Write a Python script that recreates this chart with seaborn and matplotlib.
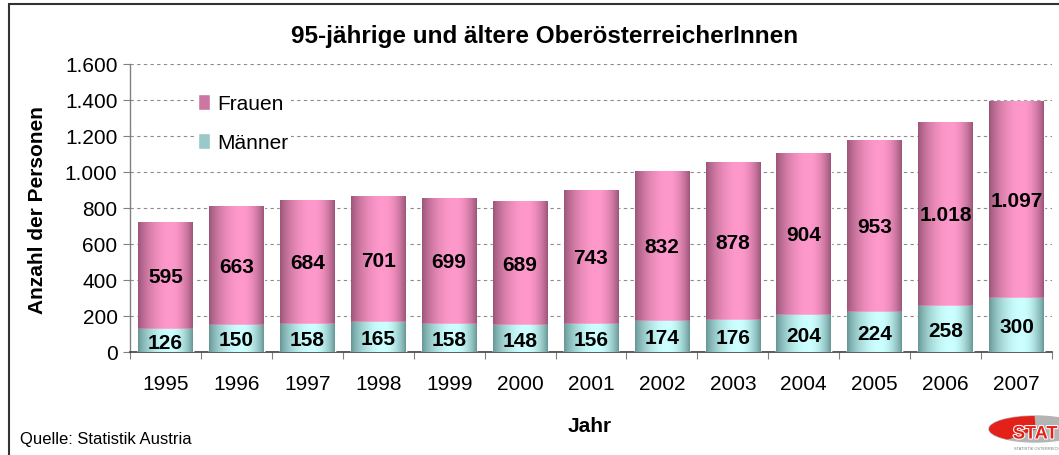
import numpy as np
import pandas as pd
import seaborn as sns
import matplotlib.pyplot as plt
import matplotlib.patheffects as pe
from matplotlib.patches import Rectangle, Ellipse, Wedge
from matplotlib.ticker import FuncFormatter, FixedLocator

# data
jahre = ["1995", "1996", "1997", "1998", "1999", "2000", "2001",
         "2002", "2003", "2004", "2005", "2006", "2007"]
maenner = [126, 150, 158, 165, 158, 148, 156, 174, 176, 204, 224, 258, 300]
frauen = [595, 663, 684, 701, 699, 689, 743, 832, 878, 904, 953, 1018, 1097]

df = pd.DataFrame({"Jahr": jahre, "Maenner": maenner, "Frauen": frauen})
df["Gesamt"] = df["Maenner"] + df["Frauen"]

sns.set_style("white")
plt.rcParams['font.family'] = ['Liberation Sans', 'DejaVu Sans']
plt.rcParams.update({"text.color": "black", "axes.labelcolor": "black",
                     "xtick.color": "black", "ytick.color": "black"})

pink_c, pink_e = np.array([1.0, 0.60, 0.80]), np.array([0.60, 0.33, 0.46])
cyan_c, cyan_e = np.array([0.80, 1.0, 1.0]), np.array([0.40, 0.58, 0.58])


def fmt_de(v):
    return f"{int(v):,}".replace(",", ".")


def gradient(center, edge, n=200):
    t = np.linspace(0, 1, n)
    s = np.where(t < 0.6, t / 0.6, (1 - t) / 0.4)
    f = np.sin(np.pi / 2 * s) ** 0.8
    cols = edge[None, :] + (center - edge)[None, :] * f[:, None]
    return cols[None, :, :]


fig = plt.figure(figsize=(10.59, 4.56), dpi=100)
ax = fig.add_axes([130 / 1059, 1 - 353 / 456, 922 / 1059, 288 / 456])

# stacked bars: total (Frauen on top) then Maenner
sns.barplot(data=df, x="Jahr", y="Gesamt", color=pink_c, width=0.77,
            saturation=1, ax=ax, zorder=3)
n_tot = len(ax.patches)
sns.barplot(data=df, x="Jahr", y="Maenner", color=cyan_c, width=0.77,
            saturation=1, ax=ax, zorder=4)

for i, p in enumerate(ax.patches):
    x0, y0 = p.get_x(), p.get_y()
    w, h = p.get_width(), p.get_height()
    g = gradient(pink_c, pink_e) if i < n_tot else gradient(cyan_c, cyan_e)
    im = ax.imshow(g, extent=[x0, x0 + w, y0, y0 + h], aspect="auto",
                   zorder=p.get_zorder() + 0.1, interpolation="bilinear")
    im.set_clip_path(p)

ax.set_xlim(-0.5, len(jahre) - 0.5)
ax.set_ylim(0, 1600)

# value labels
for i in range(len(jahre)):
    m, f = maenner[i], frauen[i]
    ax.text(i, m / 2 - 8, fmt_de(m), ha="center", va="center",
            fontsize=15, fontweight="bold", zorder=6)
    ax.text(i, m + f / 2 - 5, fmt_de(f), ha="center", va="center",
            fontsize=15, fontweight="bold", zorder=6)

# axes styling
ax.set_yticks(range(0, 1601, 200))
ax.yaxis.set_major_formatter(FuncFormatter(lambda v, _: fmt_de(v)))
ax.yaxis.grid(True, linestyle=(0, (3, 3)), color="#8c8c8c", linewidth=0.8)
ax.set_axisbelow(True)
ax.tick_params(axis="y", length=5, width=0.8, color="#808080",
               labelsize=15, pad=4, direction="out", left=True)
ax.set_xticks(range(len(jahre)))
ax.set_xticklabels(jahre)
ax.tick_params(axis="x", which="major", length=0, labelsize=15, pad=16)
ax.xaxis.set_minor_locator(FixedLocator(np.arange(-0.5, len(jahre), 1)))
ax.tick_params(axis="x", which="minor", length=5, width=0.8,
               color="#808080", direction="out", bottom=True)
ax.set_xlabel("")
ax.set_ylabel("")
for s in ["top", "right"]:
    ax.spines[s].set_visible(False)
ax.spines["left"].set_color("#808080")
ax.spines["bottom"].set_color("#404040")
ax.spines["left"].set_linewidth(1)
ax.spines["bottom"].set_linewidth(1.2)

# legend
handles = [Rectangle((0, 0), 1, 1, facecolor=(pink_c + pink_e) / 2),
           Rectangle((0, 0), 1, 1, facecolor=(cyan_c + cyan_e) / 2)]
leg = ax.legend(handles, ["Frauen", "Männer"], loc="upper left",
                bbox_to_anchor=(185 / 1059, 1 - 82 / 456),
                bbox_transform=fig.transFigure, frameon=True,
                facecolor="white", edgecolor="none", fontsize=15,
                handlelength=0.6, handleheight=0.85, handletextpad=0.35,
                labelspacing=0.95, borderpad=0.1, framealpha=1)
leg.set_zorder(7)

# titles and texts
fig.text(545 / 1059, 1 - 37 / 456, "95-jährige und ältere OberösterreicherInnen",
         ha="center", va="center", fontsize=17.5, fontweight="bold")
fig.text(38 / 1059, 1 - 210 / 456, "Anzahl der Personen", rotation=90,
         ha="center", va="center", fontsize=15, fontweight="bold")
fig.text(590 / 1059, 1 - 427 / 456, "Jahr", ha="center", va="center",
         fontsize=15, fontweight="bold")
fig.text(20 / 1059, 1 - 440 / 456, "Quelle: Statistik Austria",
         ha="left", va="center", fontsize=12)

# outer frame
fig.patches.append(Rectangle((9 / 1059, -0.1), 1.2, 1.1 - 5 / 456,
                             transform=fig.transFigure, fill=False,
                             edgecolor="#333333", linewidth=1.5))

# logo
lax = fig.add_axes([980 / 1059, 0, 79 / 1059, 50 / 456])
lax.set_xlim(0, 79)
lax.set_ylim(0, 50)
lax.axis("off")
ell = Ellipse((55, 26), 92, 26, color="#b4b4b4")
lax.add_patch(ell)
wd = Wedge((55, 26), 60, 95, 200, color="#e32119")
lax.add_patch(wd)
wd.set_clip_path(ell)
lax.text(33, 21, "STAT", color="#e32119", fontsize=13, fontweight="bold",
         ha="left", va="center",
         path_effects=[pe.withStroke(linewidth=1.5, foreground="white")])
lax.text(34, 7, "STATISTIK ÖSTERREICH", color="#777777", fontsize=2.8,
         ha="left", va="center")

fig.savefig("out.png", dpi=100)
